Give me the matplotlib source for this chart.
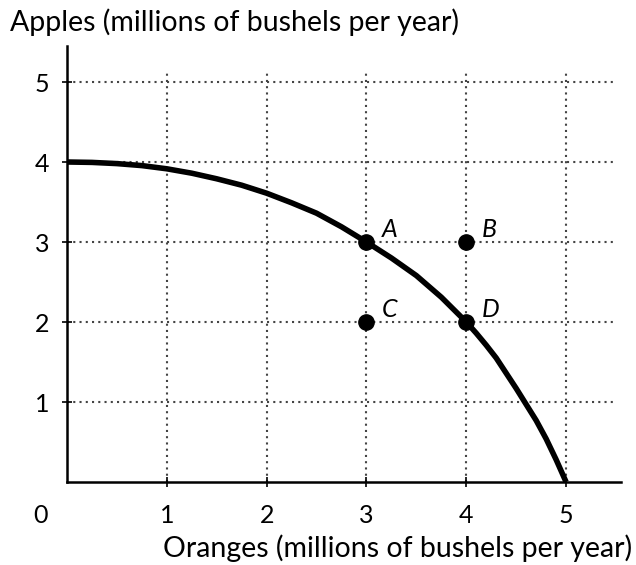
import numpy as np
import matplotlib
matplotlib.use('Agg')
import matplotlib.pyplot as plt

plt.rcParams['font.family'] = ['Lato', 'DejaVu Sans']

# PPF curve
ppf_x = [0, 0.25, 0.5, 0.75, 1, 1.25, 1.5, 1.75, 2, 2.25, 2.5, 2.75, 3,
         3.25, 3.5, 3.75, 4, 4.1, 4.2, 4.3, 4.4, 4.5, 4.6, 4.7, 4.8, 4.9, 5]
ppf_y = [4, 3.995, 3.98, 3.955, 3.915, 3.86, 3.79, 3.71, 3.61, 3.49, 3.36, 3.19, 3,
         2.8, 2.58, 2.31, 2, 1.86, 1.71, 1.55, 1.36, 1.17, 0.97, 0.77, 0.54, 0.28, 0]

# labelled points
pt_names = ['A', 'B', 'C', 'D']
pt_x = [3, 4, 3, 4]
pt_y = [3, 3, 2, 2]

ticks = [1, 2, 3, 4, 5]

fig = plt.figure(figsize=(6.36, 5.65), dpi=100)
ax = fig.add_axes([67/636, 83/565, 554/636, 436/565])
ax.set_xlim(0, 5.55)
ax.set_ylim(0, 5.45)

# dotted grid
dot = (0, (1, 2))
ax.hlines(ticks, 0, 5.47, colors='#444444', linestyles=dot, lw=1.5, zorder=1)
ax.vlines(ticks, 0, 5.15, colors='#444444', linestyles=dot, lw=1.5, zorder=1)

ax.plot(ppf_x, ppf_y, color='black', lw=4, solid_capstyle='butt',
        solid_joinstyle='round', zorder=3)
ax.plot(pt_x, pt_y, 'o', color='black', ms=11, zorder=4)
for name, x, y in zip(pt_names, pt_x, pt_y):
    ax.annotate(name, (x, y), xytext=(11, 9), textcoords='offset points',
                fontsize=18, style='italic', ha='left', va='center')

for s in ['top', 'right']:
    ax.spines[s].set_visible(False)
for s in ['left', 'bottom']:
    ax.spines[s].set_linewidth(1.8)

ax.set_xticks(ticks)
ax.set_yticks(ticks)
ax.tick_params(direction='inout', length=7, width=1.2, labelsize=18)
ax.tick_params(axis='x', pad=12)
ax.tick_params(axis='y', pad=9)

ax.annotate('0', (0, 0), xytext=(-19, -24), textcoords='offset points',
            fontsize=18, ha='center', va='center', annotation_clip=False)

fig.text(10/636, 1 - 22/565, 'Apples (millions of bushels per year)',
         fontsize=20.5, ha='left', va='center')
fig.text(632/636, 1 - 548/565, 'Oranges (millions of bushels per year)',
         fontsize=20.5, ha='right', va='center')

fig.savefig('out.png', dpi=100)
